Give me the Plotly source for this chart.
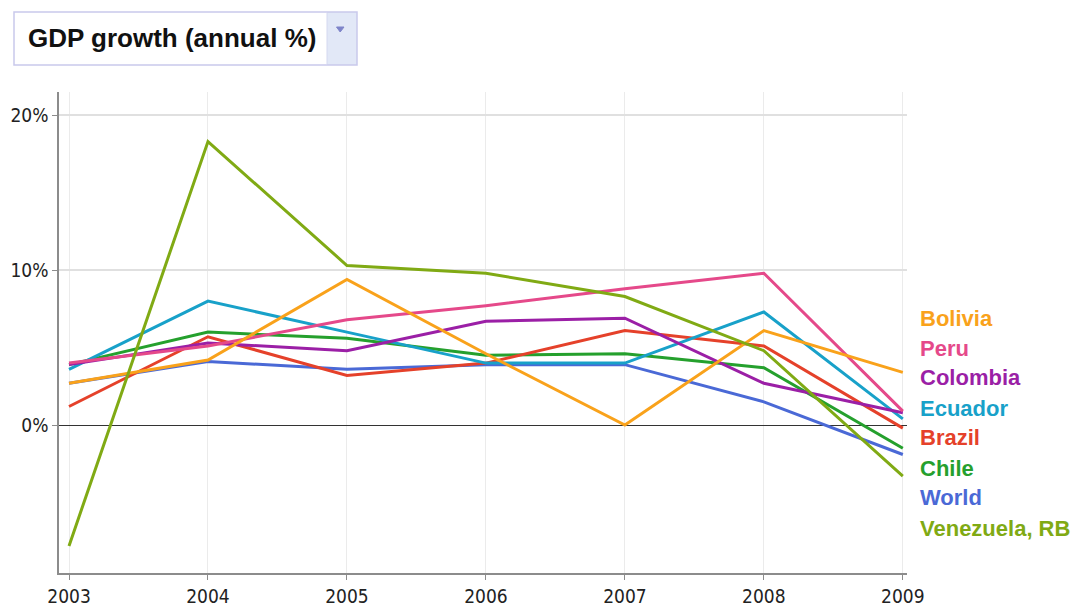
import plotly.graph_objects as go

# GDP growth (annual %), 2003-2009
years = [2003, 2004, 2005, 2006, 2007, 2008, 2009]

countries = ["Bolivia", "Peru", "Colombia", "Ecuador", "Brazil", "Chile", "World", "Venezuela, RB"]
bolivia = [2.7, 4.2, 9.4, 4.6, 0.0, 6.1, 3.4]
peru = [4.0, 5.1, 6.8, 7.7, 8.8, 9.8, 0.9]
colombia = [3.9, 5.3, 4.8, 6.7, 6.9, 2.7, 0.8]
ecuador = [3.6, 8.0, 6.0, 4.0, 4.0, 7.3, 0.4]
brazil = [1.2, 5.7, 3.2, 4.0, 6.1, 5.1, -0.2]
chile = [3.9, 6.0, 5.6, 4.5, 4.6, 3.7, -1.5]
world = [2.7, 4.1, 3.6, 3.9, 3.9, 1.5, -1.9]
venezuela = [-7.8, 18.3, 10.3, 9.8, 8.3, 4.8, -3.3]

colors = ["#F9A21B", "#E5498A", "#9B1FA6", "#18A1C9", "#E5412A", "#25A02D", "#4A69D6", "#80AA14"]

y_tickvals = [0, 10, 20]
y_ticktext = ["0%", "10%", "20%"]

series = dict(zip(countries, [bolivia, peru, colombia, ecuador, brazil, chile, world, venezuela]))
color_of = dict(zip(countries, colors))

# stacking order: World at the bottom, Venezuela on top
draw_order = ["World", "Chile", "Brazil", "Ecuador", "Colombia", "Peru", "Bolivia", "Venezuela, RB"]

W, H = 1080, 606
L, R, T, B = 59, 173, 92, 33
PW, PH = W - L - R, H - T - B


def px(x):
    return (x - L) / PW


def py(y):
    return (H - B - y) / PH


fig = go.Figure()
for name in draw_order:
    fig.add_trace(go.Scatter(
        x=years, y=series[name], mode="lines", name=name,
        line=dict(color=color_of[name], width=3),
        showlegend=False,
    ))

tick_font = dict(family="DejaVu Sans Condensed, Liberation Sans Narrow, Arial Narrow, sans-serif",
                 size=19, color="#222222")

fig.update_layout(
    width=W, height=H, autosize=False,
    margin=dict(l=L, r=R, t=T, b=B, autoexpand=False),
    paper_bgcolor="white", plot_bgcolor="white",
    xaxis=dict(
        range=[2002.928, 2009.03], tickvals=years, ticktext=[str(y) for y in years],
        showgrid=True, gridcolor="#ebebeb", gridwidth=1,
        showline=True, linecolor="#8c8c8c", linewidth=1.5,
        ticks="outside", ticklen=5, tickcolor="#8c8c8c", tickwidth=1,
        tickfont=tick_font, zeroline=False, fixedrange=True, automargin=False,
    ),
    yaxis=dict(
        range=[-9.55, 21.5], tickvals=y_tickvals, ticktext=y_ticktext,
        showgrid=True, gridcolor="#e0e0e0", gridwidth=1.5,
        showline=True, linecolor="#8c8c8c", linewidth=1.5,
        ticks="outside", ticklen=5, tickcolor="#8c8c8c", tickwidth=1,
        tickfont=tick_font, zeroline=True, zerolinecolor="#333333", zerolinewidth=1.2,
        fixedrange=True, automargin=False,
    ),
)

# series labels down the right side
label_font_family = "Liberation Sans, Arial, Helvetica, sans-serif"
for i, name in enumerate(countries):
    fig.add_annotation(
        x=px(918), y=py(318 + 30 * i), xref="paper", yref="paper",
        text="<b>%s</b>" % name, showarrow=False,
        xanchor="left", yanchor="middle",
        font=dict(family=label_font_family, size=22, color=color_of[name]),
    )

# indicator selector box with its dropdown button
fig.add_shape(type="rect", xref="paper", yref="paper",
              x0=px(327), x1=px(357), y0=py(65), y1=py(12),
              line=dict(width=0), fillcolor="#e2e8f7", layer="above")
fig.add_shape(type="rect", xref="paper", yref="paper",
              x0=px(14), x1=px(357), y0=py(65), y1=py(12),
              line=dict(color="#c9c9ec", width=1.5), fillcolor="rgba(0,0,0,0)", layer="above")
fig.add_shape(type="line", xref="paper", yref="paper",
              x0=px(327), x1=px(327), y0=py(64), y1=py(13),
              line=dict(color="#d4d8f0", width=1), layer="above")
fig.add_shape(type="path", xref="paper", yref="paper",
              path="M %f %f L %f %f L %f %f Z" % (px(336.5), py(27), px(344), py(27), px(340.2), py(32)),
              line=dict(color="#7e84c9", width=1), fillcolor="#7e84c9", layer="above")
fig.add_annotation(
    x=px(26), y=py(38), xref="paper", yref="paper",
    text="<b>GDP growth (annual %)</b>", showarrow=False,
    xanchor="left", yanchor="middle",
    font=dict(family=label_font_family, size=26, color="#111111"),
)

fig.write_html("out.html")
